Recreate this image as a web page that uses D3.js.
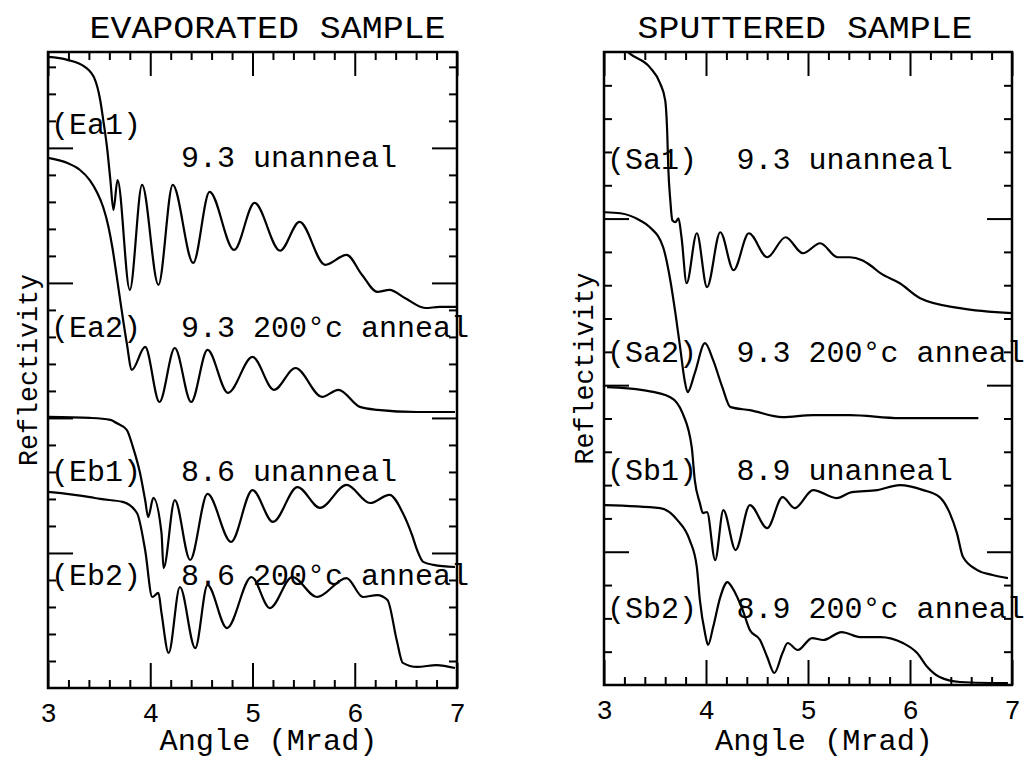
<!DOCTYPE html>
<html>
<head>
<meta charset="utf-8">
<script src="https://cdn.jsdelivr.net/npm/d3@7"></script>
<style>
  body { margin: 0; background: #fff; }
  svg { display: block; }
  text { font-family: "Liberation Mono", "DejaVu Sans Mono", monospace; fill: #000; }
</style>
</head>
<body>
<div id="chart"></div>
<script>
// angle in mrad, reflectivity in axis units (one minor tick = 1)
const ea1 = [[3.00,23.37],[3.19,23.26],[3.36,23.00],[3.46,22.52],[3.51,21.78],[3.54,21.04],[3.58,19.93],[3.61,18.81],[3.64,17.70],
  [3.68,18.81],[3.80,14.74],[3.92,18.63],[4.08,14.93],[4.22,18.63],[4.42,15.74],[4.58,18.37],[4.82,16.22],[5.02,17.96],
  [5.27,16.19],[5.46,17.26],[5.71,15.67],[5.92,16.04],[6.07,15.30],[6.22,14.67],[6.34,14.74],[6.49,14.44],[6.69,14.07],[6.83,14.11],[6.99,14.11]];
const ea2 = [[3.00,19.63],[3.19,19.44],[3.31,19.19],[3.41,18.80],[3.48,18.35],[3.54,17.80],[3.59,17.10],[3.63,16.30],[3.67,15.30],
  [3.72,14.00],[3.77,12.78],[3.82,11.78],[3.95,12.63],[4.09,10.59],[4.24,12.59],[4.40,10.59],[4.56,12.52],[4.76,10.93],
  [5.00,12.26],[5.21,11.04],[5.42,11.85],[5.68,10.78],[5.84,11.04],[6.05,10.41],[6.22,10.30],[6.61,10.22],[6.98,10.22]];
const eb1 = [[3.00,10.04],[3.41,10.00],[3.61,9.93],[3.67,9.81],[3.77,9.56],[3.83,8.93],[3.90,7.96],[3.95,6.96],[3.98,6.33],
  [4.03,7.04],[4.11,5.74],[4.13,4.44],[4.24,6.96],[4.39,4.74],[4.56,7.19],[4.79,5.41],[5.00,7.33],[5.20,6.15],[5.44,7.44],
  [5.66,6.67],[5.92,7.52],[6.15,6.85],[6.34,7.15],[6.47,6.48],[6.56,5.67],[6.61,5.11],[6.67,4.67],[6.77,4.56],[6.98,4.48]];
const eb2 = [[3.00,7.26],[3.41,7.07],[3.51,7.00],[3.73,6.89],[3.87,6.48],[3.95,5.11],[4.02,3.37],[4.08,3.52],[4.11,2.78],
  [4.18,1.30],[4.29,3.74],[4.44,1.48],[4.56,3.81],[4.75,2.22],[4.99,4.11],[5.17,2.96],[5.39,4.11],[5.63,3.37],[5.92,4.07],
  [6.08,3.37],[6.22,3.44],[6.32,3.26],[6.41,1.78],[6.47,0.93],[6.61,0.78],[6.80,0.85],[6.98,0.74]];

const sa1 = [[3.20,19.10],[3.25,18.96],[3.45,18.54],[3.55,18.06],[3.60,17.55],[3.62,16.56],[3.63,15.54],[3.65,14.55],[3.67,13.95],
  [3.70,13.89],[3.73,14.01],[3.76,13.44],[3.81,12.06],[3.91,13.56],[4.01,11.94],[4.14,13.59],[4.27,12.45],[4.42,13.56],
  [4.60,12.84],[4.78,13.44],[4.95,12.96],[5.12,13.26],[5.29,12.84],[5.41,12.84],[5.53,12.75],[5.61,12.60],[5.71,12.36],
  [5.90,12.06],[6.10,11.61],[6.49,11.31],[7.00,11.16]];
const sa2 = [[3.01,14.19],[3.16,14.16],[3.35,13.95],[3.45,13.74],[3.58,13.14],[3.65,12.15],[3.70,11.16],[3.75,10.05],[3.79,9.15],
  [3.82,8.79],[3.89,9.36],[3.99,10.26],[4.07,9.75],[4.16,8.94],[4.24,8.34],[4.43,8.25],[4.75,8.04],[5.05,8.10],[5.41,8.10],
  [5.90,8.01],[6.67,8.01]];
const sb1 = [[3.03,8.94],[3.38,8.85],[3.65,8.64],[3.77,8.16],[3.86,7.14],[3.89,6.15],[3.94,5.46],[3.97,5.16],[4.01,5.19],
  [4.09,3.75],[4.17,5.25],[4.29,4.05],[4.43,5.40],[4.60,4.71],[4.75,5.64],[4.87,5.31],[5.05,5.85],[5.28,5.61],[5.43,5.79],
  [5.68,5.85],[5.90,6.00],[6.13,5.85],[6.29,5.64],[6.39,5.16],[6.46,4.56],[6.52,3.84],[6.66,3.45],[6.81,3.30],[6.96,3.21]];
const sb2 = [[3.01,5.40],[3.55,5.31],[3.72,4.95],[3.84,4.35],[3.91,3.54],[3.94,2.55],[3.99,1.56],[4.02,1.20],[4.07,1.74],
  [4.14,2.64],[4.21,3.09],[4.26,2.91],[4.36,2.25],[4.43,1.65],[4.53,1.35],[4.60,0.84],[4.67,0.36],[4.75,0.96],[4.80,1.26],
  [4.90,1.05],[5.04,1.41],[5.15,1.35],[5.33,1.59],[5.51,1.44],[5.71,1.44],[5.93,1.26],[6.07,0.96],[6.17,0.54],[6.29,0.24],
  [6.49,0.09],[6.81,0.06],[6.96,0.06]];

const evapTags = ["(Ea1)", "(Ea2)", "(Eb1)", "(Eb2)"];
const evapNotes = ["9.3 unanneal", "9.3 200°c anneal", "8.6 unanneal", "8.6 200°c anneal"];
const sputTags = ["(Sa1)", "(Sa2)", "(Sb1)", "(Sb2)"];
const sputNotes = ["9.3 unanneal", "9.3 200°c anneal", "8.9 unanneal", "8.9 200°c anneal"];

const xMajor = [3, 4, 5, 6, 7];
const xMinor = d3.range(3.2, 7, 0.2).filter(v => Math.abs(v - Math.round(v)) > 0.05);

var width = 1032,
    height = 763;

var svg = d3.select("#chart").append("svg")
    .attr("width", width)
    .attr("height", height);

function drawPanel(p) {
  var g = svg.append("g");
  var x = p.x, y = p.y;
  var x0 = x.range()[0], x1 = x.range()[1], yb = y.range()[0], yt = y.range()[1];

  var clipId = "clip" + p.id;
  svg.append("clipPath").attr("id", clipId)
    .append("rect").attr("x", x0).attr("y", yt).attr("width", x1 - x0).attr("height", yb - yt);

  // ticks, all pointing inward
  function ax(gen, vals, size, tx, ty, lab) {
    var a = g.append("g").attr("transform", "translate(" + tx + "," + ty + ")")
      .call(gen.tickValues(vals).tickSize(-size).tickPadding(15).tickFormat(lab ? d3.format("d") : ""));
    a.select(".domain").remove();
    a.selectAll("line").attr("stroke", "#000").attr("stroke-width", 2);
    return a;
  }
  var bx = ax(d3.axisBottom(x), xMajor, 25, 0, yb, true);
  bx.selectAll("text").attr("font-size", 27).attr("font-family", "Liberation Mono");
  ax(d3.axisBottom(x), xMinor, 8, 0, yb, false);
  ax(d3.axisTop(x), xMajor, 24, 0, yt, false);
  ax(d3.axisTop(x), xMinor, 8, 0, yt, false);
  ax(d3.axisLeft(y), p.yMajor, 25, x0, 0, false);
  ax(d3.axisLeft(y), p.yMinor, 8, x0, 0, false);
  ax(d3.axisRight(y), p.yMajor, 25, x1, 0, false);
  ax(d3.axisRight(y), p.yMinor, 8, x1, 0, false);

  g.append("rect")
    .attr("x", x0).attr("y", yt).attr("width", x1 - x0).attr("height", yb - yt)
    .attr("fill", "none").attr("stroke", "#000").attr("stroke-width", 2.5);

  var line = d3.line()
    .x(function(d) { return x(d[0]); })
    .y(function(d) { return y(d[1]); })
    .curve(d3.curveMonotoneX);

  g.append("g").attr("clip-path", "url(#" + clipId + ")")
    .selectAll("path")
    .data(p.curves)
    .enter()
    .append("path")
    .attr("d", line)
    .attr("fill", "none")
    .attr("stroke", "#000")
    .attr("stroke-width", 2.2)
    .attr("stroke-linejoin", "round");

  // curve labels
  p.tags.forEach(function(t, i) {
    g.append("text").attr("x", x0 + 3).attr("y", y(p.tagAt[i]))
      .attr("font-size", 30).text(t);
    g.append("text").attr("x", x(4.3)).attr("y", y(p.noteAt[i]))
      .attr("font-size", 30).text(p.notes[i]);
  });

  g.append("text")
    .attr("x", (x0 + x1) / 2 + p.titleShift).attr("y", 38)
    .attr("text-anchor", "middle").attr("font-size", 32)
    .attr("textLength", p.titleLen).attr("lengthAdjust", "spacingAndGlyphs")
    .text(p.title);

  g.append("text")
    .attr("x", (x0 + x1) / 2 + 16).attr("y", 750)
    .attr("text-anchor", "middle").attr("font-size", 29)
    .attr("textLength", 218).attr("lengthAdjust", "spacingAndGlyphs")
    .text("Angle (Mrad)");

  g.append("text")
    .attr("transform", "translate(" + (x0 - 11) + "," + ((yb + yt) / 2) + ") rotate(-90)")
    .attr("text-anchor", "middle").attr("font-size", 27)
    .attr("textLength", 192).attr("lengthAdjust", "spacingAndGlyphs")
    .text("Reflectivity");
}

drawPanel({
  id: "L",
  x: d3.scaleLinear().domain([3, 7]).range([48, 457]),
  y: d3.scaleLinear().domain([0, 23.55]).range([688, 52]),
  yMajor: [5, 10, 15, 20],
  yMinor: d3.range(1, 24).filter(v => v % 5 !== 0),
  curves: [ea1, ea2, eb1, eb2],
  tags: evapTags, notes: evapNotes,
  tagAt: [20.5, 13.0, 7.65, 3.8],
  noteAt: [19.3, 13.0, 7.65, 3.8],
  title: "EVAPORATED SAMPLE", titleLen: 356, titleShift: 15
});

drawPanel({
  id: "R",
  x: d3.scaleLinear().domain([3, 7]).range([604, 1012]),
  y: d3.scaleLinear().domain([0, 19]).range([685, 52]),
  yMajor: [4, 9, 14],
  yMinor: d3.range(1, 19).filter(v => (v + 1) % 5 !== 0),
  curves: [sa1, sa2, sb1, sb2],
  tags: sputTags, notes: sputNotes,
  tagAt: [15.5, 9.7, 6.15, 2.0],
  noteAt: [15.5, 9.7, 6.15, 2.0],
  title: "SPUTTERED SAMPLE", titleLen: 335, titleShift: -3
});
</script>
</body>
</html>
